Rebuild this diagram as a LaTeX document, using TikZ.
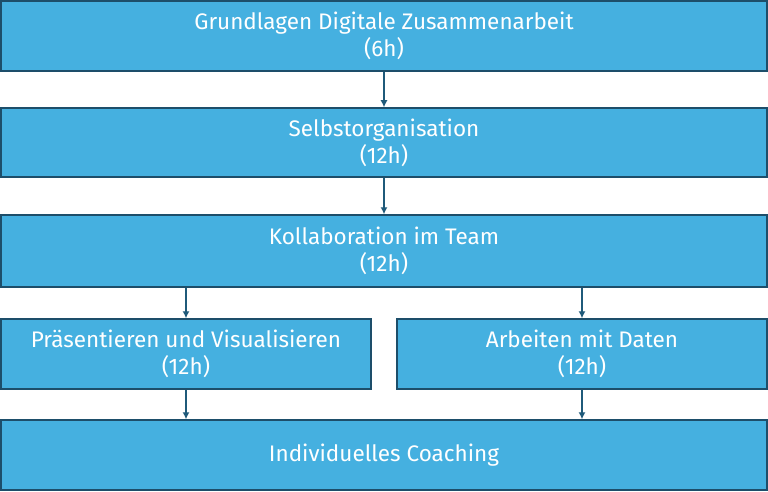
\documentclass[tikz,border=0pt]{standalone}
\usepackage{fontspec}
\setmainfont{Fira Sans}
\definecolor{boxfill}{HTML}{45B0E0}
\definecolor{boxline}{HTML}{1D4E6A}
\definecolor{arr}{HTML}{1F5A7A}
\begin{document}
\begin{tikzpicture}[x=1pt,y=-1pt,
  box/.style={draw=boxline,line width=1.5pt,fill=boxfill,text=white,font=\fontsize{22.5}{27}\selectfont,align=center},
  con/.style={draw=arr,line width=1.2pt,-{Latex[length=7pt,width=7pt]}}]
\usetikzlibrary{arrows.meta}
\useasboundingbox (0,0) rectangle (768,492);
\node[box,minimum width=766,minimum height=70] (a) at (384,36) {Grundlagen Digitale Zusammenarbeit\\(6h)};
\node[box,minimum width=766,minimum height=69] (b) at (384,142.5) {Selbstorganisation\\(12h)};
\node[box,minimum width=766,minimum height=72] (c) at (384,251) {Kollaboration im Team\\(12h)};
\node[box,minimum width=370,minimum height=70] (d) at (186,354) {Präsentieren und Visualisieren\\(12h)};
\node[box,minimum width=370,minimum height=70] (e) at (582,354) {Arbeiten mit Daten\\(12h)};
\node[box,minimum width=766,minimum height=70] (f) at (384,455) {Individuelles Coaching};
\draw[con] (a.south) -- (b.north);
\draw[con] (b.south) -- (c.north);
\draw[con] (c.south -| d.north) -- (d.north);
\draw[con] (c.south -| e.north) -- (e.north);
\draw[con] (d.south) -- (d.south |- f.north);
\draw[con] (e.south) -- (e.south |- f.north);
\end{tikzpicture}
\end{document}
